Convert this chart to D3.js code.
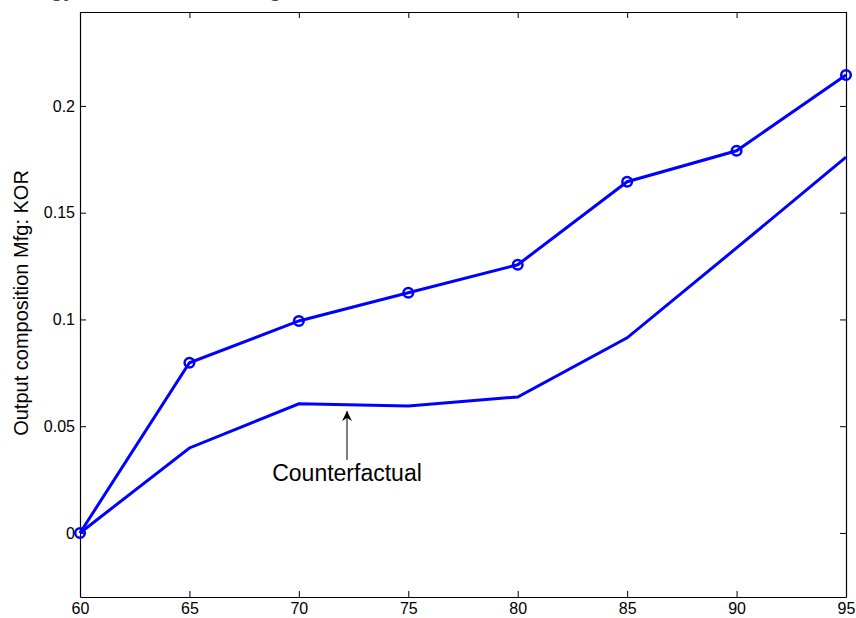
<html>
<head>
<style>
  body { margin: 0; background: #fff; }
  text { font-family: "Liberation Sans", Arial, sans-serif; }
</style>
</head>
<body>
<script src="https://d3js.org/d3.v7.min.js"></script>
<script>
// values
var years = [60, 65, 70, 75, 80, 85, 90, 95];
var actual = [0, 0.0797, 0.0993, 0.1125, 0.1256, 0.1645, 0.179, 0.2145];
var counterfactual = [0, 0.0398, 0.0605, 0.0595, 0.0637, 0.0914, 0.1335, 0.176];
var xTicks = [60, 65, 70, 75, 80, 85, 90, 95];
var yTicks = [0, 0.05, 0.1, 0.15, 0.2];

var w = 856, h = 618;
var padL = 80, padR = 846, padT = 12, padB = 597;

var svg = d3.select("body").append("svg")
    .attr("width", w).attr("height", h);

var x = d3.scaleLinear().domain([60, 95]).range([padL, padR]);
var y = d3.scaleLinear().domain([-0.03, 0.244]).range([padB, padT]);

// cut-off title above the plot, only descenders visible
svg.append("text")
   .attr("x", -40).attr("y", -3)
   .style("font", "20px 'DejaVu Serif', serif")
   .attr("fill", "#444")
   .text("Technology and Sectoral Change");

// axes with inward ticks, on all four sides (box)
svg.append("g")
   .attr("transform", "translate(0," + padB + ")")
   .call(d3.axisBottom(x).tickValues(xTicks).tickSizeInner(-6).tickSizeOuter(0).tickPadding(6)
         .tickFormat(d3.format("d")));
svg.append("g")
   .attr("transform", "translate(0," + padT + ")")
   .call(d3.axisTop(x).tickValues(xTicks).tickSizeInner(-6).tickSizeOuter(0).tickFormat(""));
svg.append("g")
   .attr("transform", "translate(" + padL + ",0)")
   .call(d3.axisLeft(y).tickValues(yTicks).tickSizeInner(-6).tickSizeOuter(0).tickPadding(5)
         .tickFormat(function(d){ return String(d); }));
svg.append("g")
   .attr("transform", "translate(" + padR + ",0)")
   .call(d3.axisRight(y).tickValues(yTicks).tickSizeInner(-6).tickSizeOuter(0).tickFormat(""));

svg.selectAll(".domain").attr("stroke", "#000").attr("stroke-width", 1.2);
svg.selectAll(".tick line").attr("stroke", "#000");
svg.selectAll(".tick text").style("font-size", "16px").attr("fill", "#000");

var line = d3.line()
    .x(function(d, i){ return x(years[i]); })
    .y(function(d){ return y(d); });

svg.append("path")
   .datum(counterfactual)
   .attr("d", line)
   .attr("fill", "none").attr("stroke", "#0000ff").attr("stroke-width", 3);

svg.append("path")
   .datum(actual)
   .attr("d", line)
   .attr("fill", "none").attr("stroke", "#0000ff").attr("stroke-width", 3);

svg.selectAll("circle.mk")
   .data(actual)
   .enter().append("circle")
   .attr("class", "mk")
   .attr("cx", function(d, i){ return x(years[i]); })
   .attr("cy", function(d){ return y(d); })
   .attr("r", 4.8)
   .attr("fill", "none").attr("stroke", "#0000ff").attr("stroke-width", 2.5);

// y label
svg.append("text")
   .attr("transform", "translate(28,303) rotate(-90)")
   .attr("text-anchor", "middle")
   .style("font-size", "20px")
   .text("Output composition Mfg: KOR");

// annotation
var ax = x(72.2);
svg.append("defs").append("marker")
   .attr("id", "head").attr("viewBox", "0 0 10 10")
   .attr("refX", 10).attr("refY", 5)
   .attr("markerWidth", 14).attr("markerHeight", 10)
   .attr("markerUnits", "userSpaceOnUse")
   .attr("orient", "auto")
   .append("path").attr("d", "M0,0 L10,5 L0,10 L3,5 Z").attr("fill", "#000");
svg.append("line")
   .attr("x1", ax).attr("y1", 460)
   .attr("x2", ax).attr("y2", 411)
   .attr("stroke", "#000").attr("stroke-width", 1)
   .attr("marker-end", "url(#head)");
svg.append("text")
   .attr("x", ax).attr("y", 481)
   .attr("text-anchor", "middle")
   .style("font-size", "23px")
   .text("Counterfactual");
</script>
</body>
</html>
